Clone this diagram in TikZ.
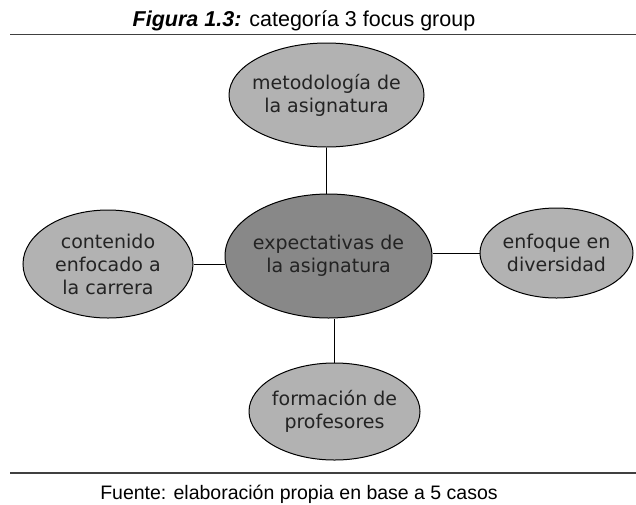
\documentclass[tikz,border=0pt]{standalone}
\usepackage{fontspec}
\setmainfont{Liberation Sans}
\newfontfamily\bubfont{DejaVu Sans}
\usetikzlibrary{shapes.geometric}
\definecolor{outerfill}{RGB}{178,178,178}
\definecolor{centerfill}{RGB}{136,136,136}
\definecolor{txt}{RGB}{35,35,35}
\begin{document}
\begin{tikzpicture}[x=1pt,y=-1pt,
  bub/.style={ellipse,draw=black,line width=1pt,fill=outerfill,inner sep=-30pt,
    font=\bubfont\fontsize{19}{23}\selectfont,text=txt,align=center},
  link/.style={draw=black,line width=1pt},
  rule/.style={draw=black!75,line width=1.3pt}]
\useasboundingbox (0,0) rectangle (636,504);
\node[font=\fontsize{21.5}{24}\selectfont,anchor=base] (title) at (304,26) {\textbf{\textit{Figura 1.3:}} categoría 3 focus group};
\coordinate (tl) at (10,34.5);
\coordinate (tr) at (636,34.5);
\draw[rule] (tl) -- (tr);
\node[bub,minimum width=195pt,minimum height=104pt] (top) at (326.5,95) {metodología de\\la asignatura};
\node[bub,fill=centerfill,minimum width=207pt,minimum height=124pt] (ctr) at (328.5,256) {expectativas de\\la asignatura};
\node[bub,minimum width=170pt,minimum height=108pt] (left) at (108,264) {contenido\\enfocado a\\la carrera};
\node[bub,minimum width=153pt,minimum height=90pt] (right) at (556.5,253) {enfoque en\\diversidad};
\node[bub,minimum width=171pt,minimum height=97pt] (bot) at (334.5,411.5) {formación de\\profesores};
\draw[link] (top.south) -- (top.south |- ctr.north);
\draw[link] (left.east) -- (left.east -| ctr.west);
\draw[link] (right.west) -- (right.west -| ctr.east);
\draw[link] (bot.north) -- (bot.north |- ctr.south);
\coordinate (bl) at (10,473);
\coordinate (br) at (636,473);
\draw[rule] (bl) -- (br);
\node[font=\fontsize{19.5}{22}\selectfont,anchor=base] (src) at (299,499) {Fuente: elaboración propia en base a 5 casos};
\end{tikzpicture}
\end{document}
